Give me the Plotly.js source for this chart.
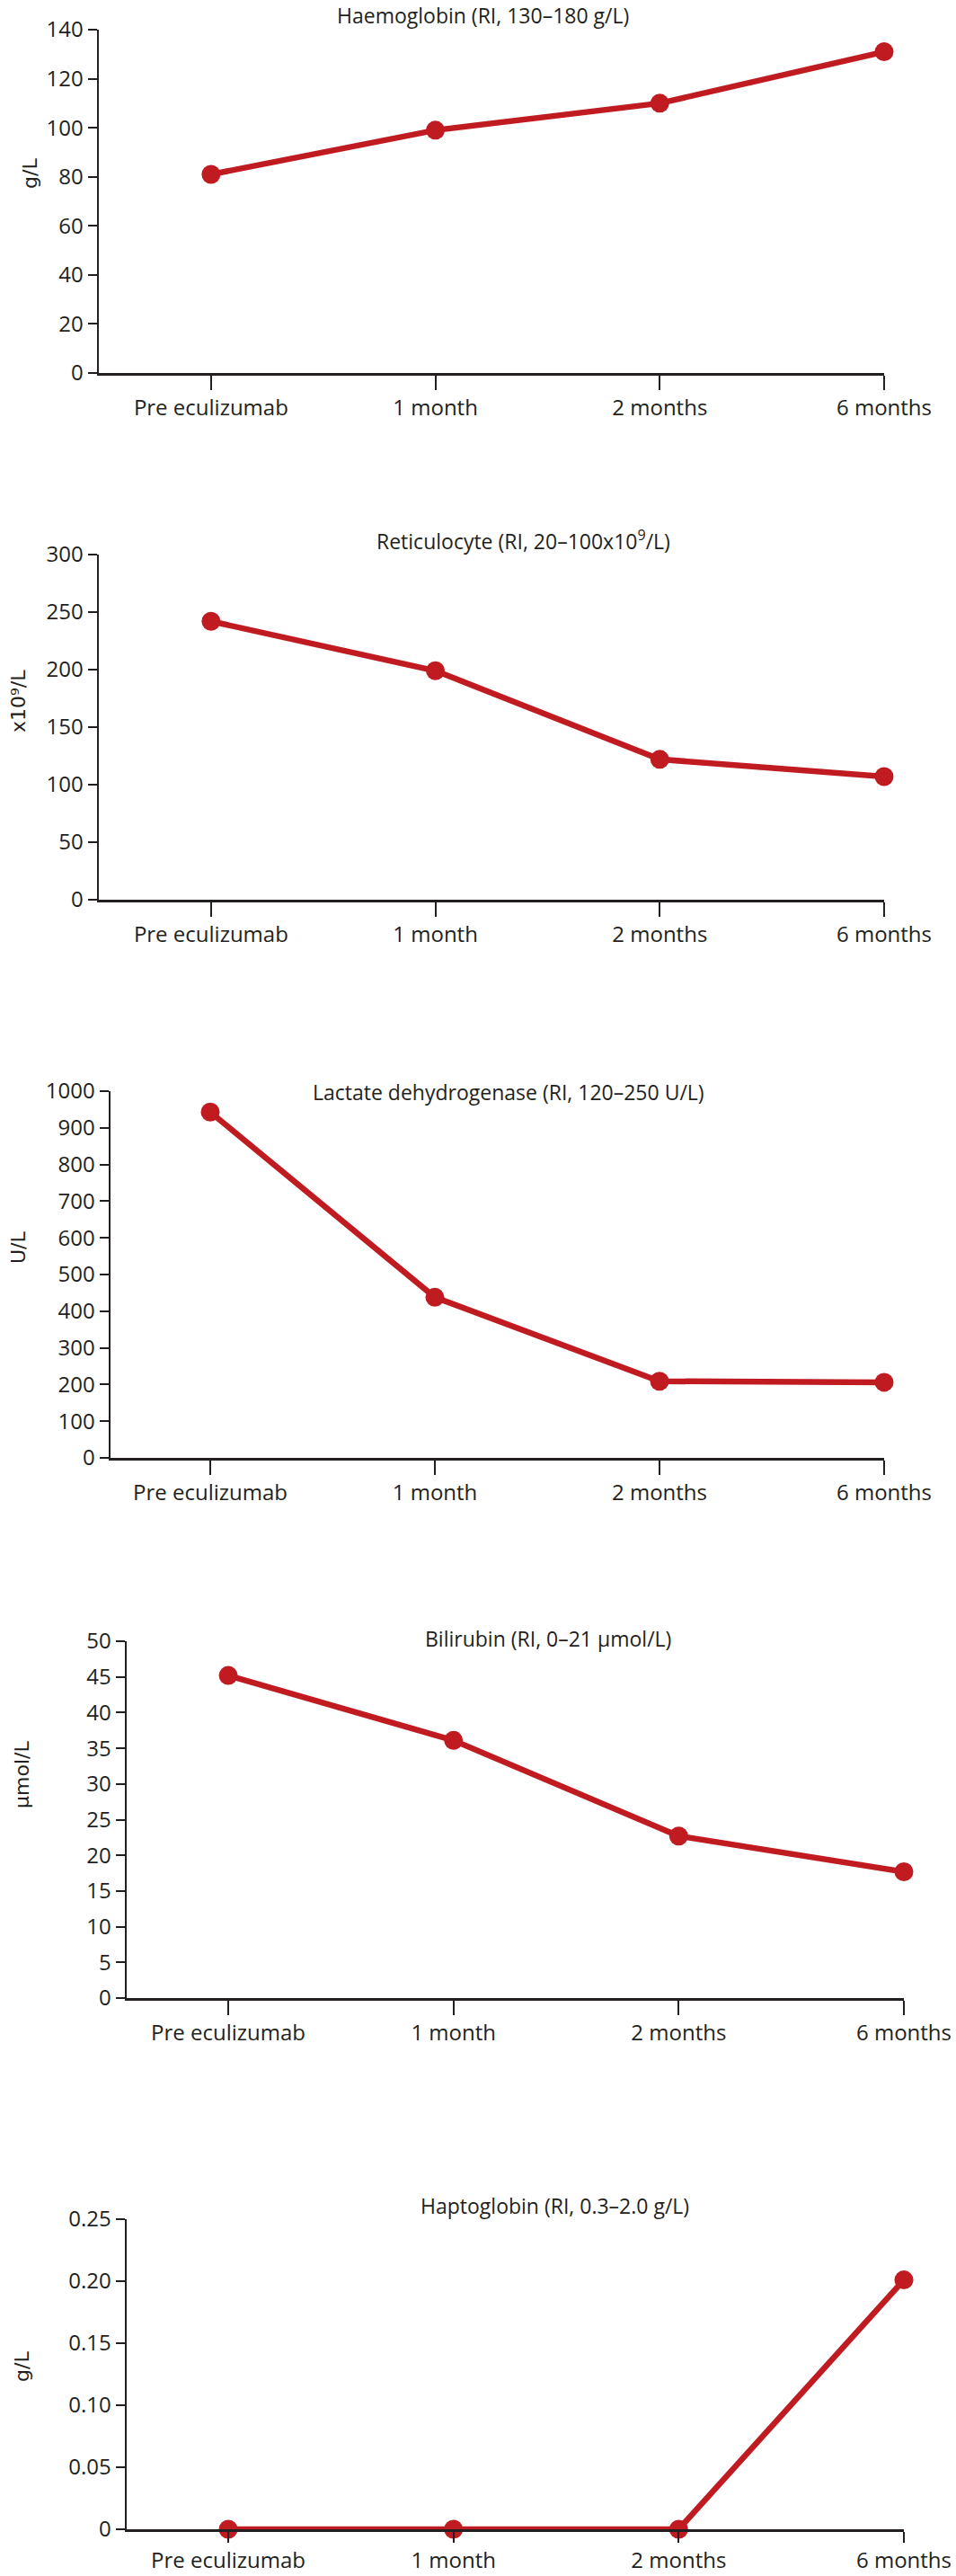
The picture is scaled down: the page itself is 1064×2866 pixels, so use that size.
<!DOCTYPE html>
<html>
<head>
<meta charset="utf-8">
<script src="https://cdn.plot.ly/plotly-3.0.1.min.js"></script>
<style>
  html, body { margin: 0; padding: 0; background: #fff; }
  #chart { width: 1064px; height: 2866px; }
</style>
</head>
<body>
<div id="chart"></div>
<script>
// ─── data ───────────────────────────────────────────────
var timepoints = ['Pre eculizumab', '1 month', '2 months', '6 months'];

var haemoglobin = [81, 99, 110, 131];
var reticulocyte = [242, 199, 122, 107];
var ldh = [943, 438, 209, 206];
var bilirubin = [45.2, 36.1, 22.7, 17.7];
var haptoglobin = [0, 0, 0, 0.201];

var panelTitles = [
  'Haemoglobin (RI, 130–180 g/L)',
  'Reticulocyte (RI, 20–100x10<sup>9</sup>/L)',
  'Lactate dehydrogenase (RI, 120–250 U/L)',
  'Bilirubin (RI, 0–21 µmol/L)',
  'Haptoglobin (RI, 0.3–2.0 g/L)'
];
var unitLabels = ['g/L', 'x10⁹/L', 'U/L', 'µmol/L', 'g/L'];

var hbTicks = [0, 20, 40, 60, 80, 100, 120, 140];
var reticTicks = [0, 50, 100, 150, 200, 250, 300];
var ldhTicks = [0, 100, 200, 300, 400, 500, 600, 700, 800, 900, 1000];
var biliTicks = [0, 5, 10, 15, 20, 25, 30, 35, 40, 45, 50];
var haptoTicks = [0, 0.05, 0.10, 0.15, 0.20, 0.25];
var haptoTickText = ['0', '0.05', '0.10', '0.15', '0.20', '0.25'];

// ─── layout (pixel boxes on a 1064 x 2866 page) ─────────
var W = 1064, H = 2866;
var RED = '#c11b22';
var INK = '#231f20';
var FONT = 'Open Sans, Lato, sans-serif';

var series = [haemoglobin, reticulocyte, ldh, bilirubin, haptoglobin];
var ticks = [hbTicks, reticTicks, ldhTicks, biliTicks, haptoTicks];
var tickText = [null, null, null, null, haptoTickText];

// left, right, top, bottom of plot area; x range start; x tick length; title & unit label positions
var boxes = [
  { l: 110, r: 984,  t: 33,   b: 415,  x0: -0.5,   tl: 16, tx: 537, ty: 17,   ux: 34, uy: 193 },
  { l: 110, r: 984,  t: 617,  b: 1001, x0: -0.5,   tl: 16, tx: 582, ty: 601,  ux: 20, uy: 780 },
  { l: 123, r: 984,  t: 1214, b: 1622, x0: -0.444, tl: 16, tx: 566, ty: 1215, ux: 20, uy: 1388 },
  { l: 141, r: 1006, t: 1826, b: 2223, x0: -0.451, tl: 16, tx: 610, ty: 1823, ux: 24, uy: 1975 },
  { l: 141, r: 1006, t: 2469, b: 2814, x0: -0.451, tl: 12, tx: 617, ty: 2454, ux: 24, uy: 2633 }
];

var traces = [];
var layout = {
  width: W, height: H,
  margin: { l: 0, r: 0, t: 0, b: 0 },
  paper_bgcolor: '#fff', plot_bgcolor: '#fff',
  showlegend: false,
  font: { family: FONT, size: 24, color: INK },
  annotations: []
};

boxes.forEach(function (bx, i) {
  var n = i === 0 ? '' : String(i + 1);
  traces.push({
    type: 'scatter', mode: 'lines+markers',
    x: timepoints, y: series[i],
    xaxis: 'x' + n, yaxis: 'y' + n,
    line: { color: RED, width: 6.5 },
    marker: { color: RED, size: 21 },
    cliponaxis: false,
    hoverinfo: 'x+y'
  });

  layout['xaxis' + n] = {
    domain: [bx.l / W, bx.r / W],
    anchor: 'y' + n,
    type: 'category',
    categoryarray: timepoints,
    range: [bx.x0, 3],
    showgrid: false, zeroline: false,
    showline: true, linecolor: INK, linewidth: 2.5,
    ticks: 'outside', ticklen: bx.tl, tickwidth: 2, tickcolor: INK,
    tickfont: { family: FONT, size: 24, color: INK },
    fixedrange: true
  };
  var ya = {
    domain: [1 - bx.b / H, 1 - bx.t / H],
    anchor: 'x' + n,
    range: [0, ticks[i][ticks[i].length - 1]],
    tickvals: ticks[i],
    showgrid: false, zeroline: false,
    showline: true, linecolor: INK, linewidth: 2.5,
    ticks: 'outside', ticklen: 10, tickwidth: 2, tickcolor: INK,
    tickfont: { family: FONT, size: 24, color: INK },
    fixedrange: true
  };
  if (tickText[i]) ya.ticktext = tickText[i];
  layout['yaxis' + n] = ya;

  layout.annotations.push({
    text: panelTitles[i], showarrow: false,
    xref: 'paper', yref: 'paper',
    x: bx.tx / W, y: 1 - bx.ty / H,
    xanchor: 'center', yanchor: 'middle',
    font: { family: FONT, size: 23, color: INK }
  });
  layout.annotations.push({
    text: unitLabels[i], showarrow: false, textangle: -90,
    xref: 'paper', yref: 'paper',
    x: bx.ux / W, y: 1 - bx.uy / H,
    xanchor: 'center', yanchor: 'middle',
    font: { family: 'DejaVu Sans, sans-serif', size: 22, color: INK }
  });
});

Plotly.newPlot('chart', traces, layout, { staticPlot: true, displayModeBar: false });
</script>
</body>
</html>
